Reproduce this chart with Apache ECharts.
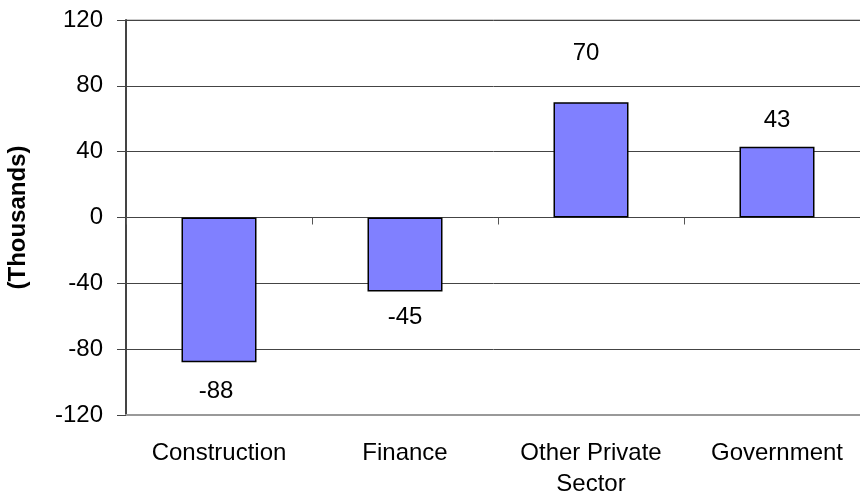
<!DOCTYPE html>
<html><head><meta charset="utf-8">
<script src="https://cdn.jsdelivr.net/npm/echarts@6/dist/echarts.min.js"></script>
<style>html,body{margin:0;padding:0;background:#fff}#c{width:860px;height:495px}</style>
</head><body><div id="c"></div>
<script>
const categories = ['Construction', 'Finance', 'Other Private\nSector', 'Government'];
const values = [-88, -45, 70, 43];
const yTicks = { min: -120, max: 120, interval: 40 };
const yTitle = '(Thousands)';

const font = 'Liberation Sans, Arial, Helvetica, sans-serif';
const chart = echarts.init(document.getElementById('c'));
const labelDist = [17, 14, 37, 14];
const labelOffset = [[-3, 0], [0, 0], [-5, 0], [0, 0]];
chart.setOption({
  animation: false,
  grid: { left: 126, top: 20, width: 744, height: 395, containLabel: false, outerBoundsMode: 'none',
          show: true, borderColor: '#999', borderWidth: 1, backgroundColor: 'transparent' },
  xAxis: [{
    type: 'category', data: categories, position: 'bottom',
    axisLine: { onZero: false, lineStyle: { color: '#999', width: 2 } },
    axisTick: { show: false },
    axisLabel: { color: '#000', fontSize: 24, fontFamily: font, margin: 23, lineHeight: 31, interval: 0 }
  }, {
    type: 'category', data: categories, position: 'bottom',
    axisLine: { onZero: true, lineStyle: { color: '#444', width: 1 } },
    axisTick: { show: true, length: 7, lineStyle: { color: '#555' } },
    axisLabel: { show: false }
  }],
  yAxis: {
    type: 'value', min: yTicks.min, max: yTicks.max, interval: yTicks.interval,
    name: yTitle, nameLocation: 'middle', nameGap: 96, nameRotate: 90,
    nameTextStyle: { color: '#000', fontSize: 24, fontWeight: 'bold', fontFamily: font },
    axisLine: { show: true, lineStyle: { color: '#444', width: 2 } },
    axisTick: { show: true, length: 9, lineStyle: { color: '#444' } },
    axisLabel: { color: '#000', fontSize: 24, fontFamily: font, margin: 23 },
    splitLine: { show: true, lineStyle: { color: '#444', width: 1 } }
  },
  series: [{
    type: 'bar', xAxisIndex: 0, barWidth: 75,
    data: values.map((v, i) => ({
      value: v,
      label: { position: v >= 0 ? 'top' : 'bottom', distance: labelDist[i], offset: labelOffset[i] }
    })),
    itemStyle: { color: '#8080FF', borderColor: '#000', borderWidth: 1.5 },
    label: { show: true, color: '#000', fontSize: 24, fontFamily: font }
  }]
});
</script></body></html>
